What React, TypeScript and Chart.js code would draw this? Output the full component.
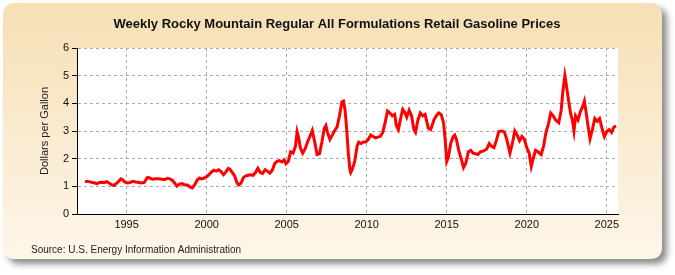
import React, { useEffect, useRef } from "react";
import { Chart, registerables } from "chart.js";

Chart.register(...registerables);

const TITLE = "Weekly Rocky Mountain Regular All Formulations Retail Gasoline Prices";
const Y_LABEL = "Dollars per Gallon";
const SOURCE = "Source: U.S. Energy Information Administration";

const X_TICKS = [1995, 2000, 2005, 2010, 2015, 2020, 2025];
const Y_TICKS = [0, 1, 2, 3, 4, 5, 6];

const YEARS = [
  1992.4, 1992.55, 1992.7, 1992.85, 1993.0, 1993.15, 1993.3, 1993.45, 1993.6, 1993.75, 1993.9,
  1994.05, 1994.2, 1994.35, 1994.5, 1994.65, 1994.75, 1994.9, 1995.05, 1995.2, 1995.4, 1995.55,
  1995.7, 1995.9, 1996.1, 1996.3, 1996.45, 1996.6, 1996.8, 1997.0, 1997.2, 1997.4, 1997.55,
  1997.7, 1997.85, 1998.0, 1998.15, 1998.3, 1998.45, 1998.6, 1998.8, 1998.95, 1999.1, 1999.25,
  1999.4, 1999.55, 1999.7, 1999.85, 2000.0, 2000.15, 2000.3, 2000.45, 2000.6, 2000.75, 2000.9,
  2001.05, 2001.2, 2001.35, 2001.45, 2001.6, 2001.75, 2001.9, 2002.0, 2002.15, 2002.3, 2002.45,
  2002.6, 2002.75, 2002.9, 2003.05, 2003.2, 2003.35, 2003.5, 2003.65, 2003.8, 2003.95, 2004.1,
  2004.25, 2004.4, 2004.55, 2004.7, 2004.85, 2004.95, 2005.1, 2005.25, 2005.4, 2005.55, 2005.65,
  2005.75, 2005.85, 2006.0, 2006.15, 2006.3, 2006.45, 2006.6, 2006.75, 2006.9, 2007.05, 2007.2,
  2007.35, 2007.45, 2007.55, 2007.7, 2007.85, 2008.0, 2008.15, 2008.3, 2008.45, 2008.55, 2008.65,
  2008.75, 2008.85, 2008.95, 2009.0, 2009.1, 2009.25, 2009.4, 2009.5, 2009.65, 2009.8, 2009.95,
  2010.1, 2010.25, 2010.4, 2010.55, 2010.7, 2010.85, 2011.0, 2011.15, 2011.3, 2011.45, 2011.6,
  2011.75, 2011.85, 2011.98, 2012.1, 2012.25, 2012.4, 2012.5, 2012.65, 2012.8, 2012.95, 2013.05,
  2013.2, 2013.35, 2013.5, 2013.65, 2013.85, 2014.0, 2014.2, 2014.35, 2014.5, 2014.65, 2014.8,
  2014.9, 2015.0, 2015.1, 2015.25, 2015.4, 2015.5, 2015.6, 2015.75, 2015.9, 2016.05, 2016.2,
  2016.35, 2016.5, 2016.65, 2016.8, 2016.95, 2017.1, 2017.3, 2017.5, 2017.65, 2017.8, 2017.95,
  2018.1, 2018.25, 2018.45, 2018.6, 2018.75, 2018.95, 2019.1, 2019.25, 2019.4, 2019.55, 2019.7,
  2019.85, 2020.0, 2020.15, 2020.28, 2020.4, 2020.55, 2020.7, 2020.9, 2021.05, 2021.2, 2021.35,
  2021.5, 2021.65, 2021.8, 2022.0, 2022.15, 2022.25, 2022.38, 2022.45, 2022.55, 2022.65, 2022.75,
  2022.85, 2022.95, 2023.05, 2023.2, 2023.35, 2023.5, 2023.6, 2023.7, 2023.85, 2023.95, 2024.1,
  2024.25, 2024.4, 2024.55, 2024.7, 2024.85, 2025.0, 2025.15, 2025.3, 2025.45, 2025.58,
];

const PRICES = [
  1.17, 1.18, 1.16, 1.14, 1.12, 1.1, 1.14, 1.15, 1.13, 1.17, 1.12,
  1.06, 1.03, 1.1, 1.18, 1.27, 1.24, 1.15, 1.12, 1.14, 1.18, 1.16,
  1.15, 1.12, 1.14, 1.32, 1.3, 1.26, 1.27, 1.27, 1.26, 1.25, 1.29,
  1.27, 1.22, 1.12, 1.01, 1.08, 1.1, 1.06, 1.05, 0.98, 0.94, 1.05,
  1.22, 1.3, 1.27, 1.3, 1.35, 1.42, 1.52, 1.58, 1.55, 1.6, 1.53,
  1.42, 1.52, 1.65, 1.62, 1.5, 1.38, 1.12, 1.05, 1.12, 1.32, 1.38,
  1.4, 1.42, 1.4, 1.5, 1.65, 1.5, 1.47, 1.6, 1.55, 1.48, 1.58,
  1.82, 1.9, 1.93, 1.88, 1.95, 1.82, 1.9, 2.25, 2.2, 2.45, 2.97,
  2.75, 2.4, 2.2, 2.35, 2.6, 2.8, 3.02, 2.6, 2.15, 2.18, 2.6,
  3.1, 3.2, 2.95, 2.7, 2.85, 3.02, 3.15, 3.55, 4.05, 4.08, 3.75,
  3.05, 2.2, 1.6, 1.5, 1.62, 1.9, 2.45, 2.6, 2.55, 2.6, 2.6,
  2.7, 2.85, 2.8, 2.75, 2.78, 2.8, 2.95, 3.3, 3.72, 3.65, 3.55,
  3.6, 3.2, 3.05, 3.4, 3.78, 3.65, 3.5, 3.75, 3.55, 3.05, 2.95,
  3.4, 3.65, 3.55, 3.6, 3.1, 3.05, 3.4, 3.55, 3.65, 3.6, 3.3,
  2.7, 1.9, 2.05, 2.55, 2.8, 2.85, 2.7, 2.3, 2.0, 1.68, 1.85,
  2.25, 2.3, 2.2, 2.18, 2.15, 2.25, 2.28, 2.35, 2.55, 2.45, 2.4,
  2.65, 2.98, 3.0, 2.97, 2.7, 2.2, 2.55, 3.0, 2.85, 2.65, 2.8,
  2.7, 2.4, 2.2, 1.72, 2.0, 2.3, 2.25, 2.15, 2.45, 2.95, 3.25,
  3.65, 3.55, 3.4, 3.3, 3.75, 4.4, 5.0, 4.75, 4.35, 3.95, 3.6,
  3.4, 3.0, 3.55, 3.4, 3.7, 3.9, 4.08, 3.7, 3.1, 2.72, 3.05,
  3.45, 3.35, 3.45, 3.1, 2.8, 2.98, 3.05, 2.95, 3.15, 3.18,
];

const FONT = "'Liberation Sans', Arial, sans-serif";

const panelPlugin = {
  id: "panel",
  beforeDraw(chart: any) {
    const ctx = chart.ctx as CanvasRenderingContext2D;
    const x = 3, y = 3, w = 659, h = 256, r = 12;
    ctx.save();
    const path = () => {
      ctx.beginPath();
      ctx.moveTo(x + r, y);
      ctx.lineTo(x + w - r, y);
      ctx.quadraticCurveTo(x + w, y, x + w, y + r);
      ctx.lineTo(x + w, y + h - r);
      ctx.quadraticCurveTo(x + w, y + h, x + w - r, y + h);
      ctx.lineTo(x + r, y + h);
      ctx.quadraticCurveTo(x, y + h, x, y + h - r);
      ctx.lineTo(x, y + r);
      ctx.quadraticCurveTo(x, y, x + r, y);
      ctx.closePath();
    };
    ctx.shadowColor = "rgba(0,0,0,0.45)";
    ctx.shadowBlur = 6;
    ctx.shadowOffsetX = 5;
    ctx.shadowOffsetY = 5;
    const g = ctx.createLinearGradient(0, y, 0, y + h);
    g.addColorStop(0, "#F6DFB4");
    g.addColorStop(1, "#FEF6EA");
    ctx.fillStyle = g;
    path();
    ctx.fill();
    ctx.shadowColor = "transparent";
    const a = chart.chartArea;
    ctx.fillStyle = "#FFFFFF";
    ctx.fillRect(a.left, a.top, a.right - a.left, a.bottom - a.top);
    ctx.fillStyle = "#111";
    ctx.textAlign = "center";
    ctx.textBaseline = "middle";
    ctx.font = `bold 13px ${FONT}`;
    ctx.fillText(TITLE, 337, 24);
    ctx.font = `10px ${FONT}`;
    ctx.textAlign = "left";
    ctx.fillStyle = "#222";
    ctx.fillText(SOURCE, 31, 250);
    ctx.save();
    ctx.translate(45, 131);
    ctx.rotate(-Math.PI / 2);
    ctx.textAlign = "center";
    ctx.font = `11px ${FONT}`;
    ctx.fillText(Y_LABEL, 0, 0);
    ctx.restore();
    ctx.restore();
  },
};

export default function App() {
  const ref = useRef<HTMLCanvasElement | null>(null);
  useEffect(() => {
    document.body.style.margin = "0";
    const points = YEARS.map((yr, i) => ({ x: yr, y: PRICES[i] }));
    const chart = new Chart(ref.current as HTMLCanvasElement, {
      type: "line",
      data: {
        datasets: [
          {
            data: points,
            borderColor: "#FF0000",
            borderWidth: 3,
            pointRadius: 0,
            tension: 0,
            fill: false,
          },
        ],
      },
      plugins: [panelPlugin],
      options: {
        animation: false,
        responsive: false,
        events: [],
        layout: { padding: { left: 0, top: 48, right: 57, bottom: 0 } },
        plugins: { legend: { display: false }, tooltip: { enabled: false }, title: { display: false } },
        scales: {
          x: {
            type: "linear",
            min: 1991.9,
            max: 2025.7,
            afterFit(s: any) { s.height = 61; },
            afterBuildTicks(s: any) { s.ticks = X_TICKS.map((v) => ({ value: v })); },
            grid: { color: "#AAAAAA", drawTicks: false, lineWidth: 1 } as any,
            border: { display: true, color: "#000", width: 1, dash: [3, 3] } as any,
            ticks: { color: "#111", font: { family: FONT, size: 11 }, padding: 4, callback: (v: any) => String(v), maxRotation: 0 },
          },
          y: {
            type: "linear",
            min: 0,
            max: 6,
            afterFit(s: any) { s.width = 77; },
            afterBuildTicks(s: any) { s.ticks = Y_TICKS.map((v) => ({ value: v })); },
            grid: { color: "#AAAAAA", tickColor: "#000", tickLength: 5, tickBorderDash: [], lineWidth: 1 } as any,
            border: { display: true, color: "#000", width: 1, dash: [3, 3] } as any,
            ticks: { color: "#111", font: { family: FONT, size: 11 }, padding: 3, callback: (v: any) => String(v) },
          },
        },
      },
    });
    return () => chart.destroy();
  }, []);
  return (
    <div style={{ width: 675, height: 275 }}>
      <canvas ref={ref} width={675} height={275} style={{ display: "block" }} />
    </div>
  );
}
